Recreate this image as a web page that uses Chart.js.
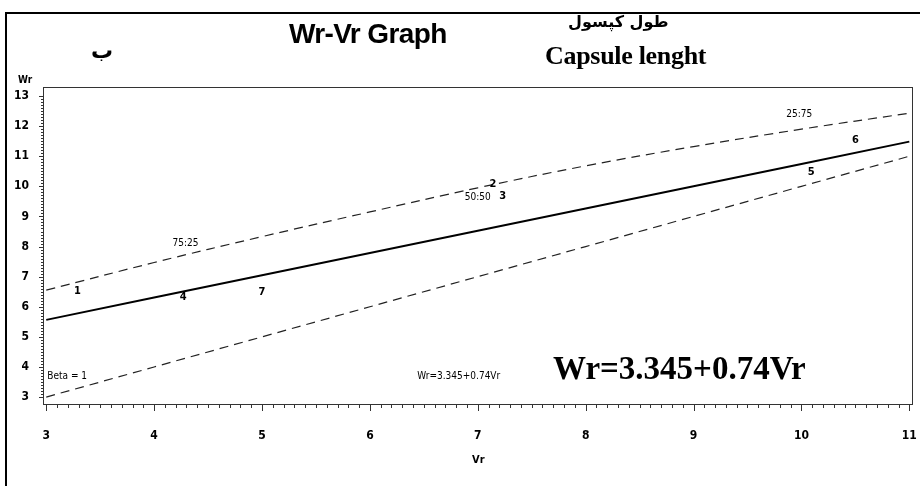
<!DOCTYPE html>
<html>
<head>
<meta charset="utf-8">
<script src="https://cdn.jsdelivr.net/npm/chart.js@4/dist/chart.umd.min.js"></script>
<style>
  html, body { margin: 0; padding: 0; background: #fff; }
  #wrap { position: relative; width: 920px; height: 486px; overflow: hidden; }
  #frame { position: absolute; left: 5px; top: 12px; width: 930px; height: 500px; border-left: 2px solid #000; border-top: 2px solid #000; }
  canvas { position: absolute; left: 0; top: 0; }
  .t { position: absolute; white-space: nowrap; color: #000; }
</style>
</head>
<body>
<div id="wrap">
  <div id="frame"></div>
  <canvas id="c" width="920" height="486"></canvas>
  <div class="t" style="left:289px;top:18px;font:bold 28px 'Liberation Sans',Arial,sans-serif;letter-spacing:-0.6px">Wr-Vr Graph</div>
  <div class="t" style="left:91px;top:38px;font:bold 22px 'DejaVu Sans',sans-serif" dir="rtl">ب</div>
  <div class="t" style="left:568px;top:12px;font:bold 16px 'DejaVu Sans',sans-serif" dir="rtl">طول کپسول</div>
  <div class="t" style="left:545px;top:41px;font:bold 26px 'Liberation Serif','Times New Roman',serif;letter-spacing:-0.3px">Capsule lenght</div>
  <div class="t" style="left:18px;top:74px;font:bold 10px 'Liberation Sans Narrow','DejaVu Sans Condensed',sans-serif">Wr</div>
  <div class="t" style="left:472px;top:453px;font:bold 11px 'Liberation Sans Narrow','DejaVu Sans Condensed',sans-serif">Vr</div>
  <div class="t" style="left:553px;top:350px;font:bold 33px 'Liberation Serif','Times New Roman',serif">Wr=3.345+0.74Vr</div>
</div>
<script>
// values
const vrValues = [3, 4, 5, 6, 7, 8, 9, 10, 11];
const regressionLine = [5.565, 6.305, 7.045, 7.785, 8.525, 9.265, 10.005, 10.745, 11.485];
const upperLimit = [6.55, 7.47, 8.33, 9.15, 9.95, 10.68, 11.32, 11.9, 12.43];
const betaOneLine = [3, 4, 5, 6, 7, 8, 9, 10, 11];

const parentNames = ['1', '2', '3', '4', '5', '6', '7'];
const parentVr = [3.29, 7.14, 7.23, 4.27, 10.09, 10.5, 5.0];
const parentWr = [6.52, 10.08, 9.68, 6.32, 10.47, 11.54, 6.49];

const notes = [
  { text: '75:25', x: 4.29, y: 8.1, align: 'center' },
  { text: '50:50', x: 7.0, y: 9.63, align: 'center' },
  { text: '25:75', x: 9.98, y: 12.4, align: 'center' },
  { text: 'Beta = 1', x: 3.01, y: 3.68, align: 'left' },
  { text: 'Wr=3.345+0.74Vr', x: 6.44, y: 3.68, align: 'left' }
];

const xTicks = [3, 4, 5, 6, 7, 8, 9, 10, 11];
const yTicks = [3, 4, 5, 6, 7, 8, 9, 10, 11, 12, 13];

const toXY = arr => arr.map((v, i) => ({ x: vrValues[i], y: v }));
const narrow = "'Liberation Sans Narrow','DejaVu Sans Condensed',sans-serif";

const extras = {
  id: 'extras',
  afterDraw(chart) {
    const { ctx, chartArea: a, scales: { x, y } } = chart;
    ctx.save();
    ctx.strokeStyle = '#333';
    ctx.lineWidth = 1;
    ctx.strokeRect(a.left + 0.5, a.top + 0.5, a.right - a.left, a.bottom - a.top);
    // minor ticks
    ctx.beginPath();
    for (let i = 0; i <= 80; i++) {
      const px = Math.round(x.getPixelForValue(3 + i / 10)) + 0.5;
      const len = i % 10 === 0 ? 7 : 4;
      ctx.moveTo(px, a.bottom);
      ctx.lineTo(px, a.bottom + len);
    }
    for (let i = 0; i <= 100; i++) {
      const py = Math.round(y.getPixelForValue(3 + i / 10)) + 0.5;
      const len = i % 10 === 0 ? 4 : 2;
      ctx.moveTo(a.left, py);
      ctx.lineTo(a.left - len, py);
    }
    ctx.stroke();
    // parent labels
    ctx.fillStyle = '#000';
    ctx.font = 'bold 11px ' + narrow;
    ctx.textAlign = 'center';
    ctx.textBaseline = 'middle';
    parentNames.forEach((n, i) => {
      ctx.fillText(n, x.getPixelForValue(parentVr[i]), y.getPixelForValue(parentWr[i]));
    });
    ctx.font = '10px ' + narrow;
    notes.forEach(n => {
      ctx.textAlign = n.align;
      ctx.fillText(n.text, x.getPixelForValue(n.x), y.getPixelForValue(n.y));
    });
    ctx.restore();
  }
};

new Chart(document.getElementById('c'), {
  type: 'scatter',
  data: {
    datasets: [
      { data: toXY(regressionLine), showLine: true, borderColor: '#000', borderWidth: 2, pointRadius: 0 },
      { data: toXY(upperLimit), showLine: true, borderColor: '#222', borderWidth: 1.2, borderDash: [9, 6], pointRadius: 0, tension: 0.4 },
      { data: toXY(betaOneLine), showLine: true, borderColor: '#222', borderWidth: 1.2, borderDash: [9, 6], pointRadius: 0 }
    ]
  },
  options: {
    responsive: false,
    animation: false,
    layout: { padding: { left: 0, top: 87, right: 8, bottom: 0 } },
    plugins: { legend: { display: false }, tooltip: { enabled: false } },
    scales: {
      x: {
        type: 'linear', min: 2.97, max: 11.025,
        afterFit: s => { s.height = 82; s.paddingLeft = 0; s.paddingRight = 0; },
        afterBuildTicks: s => { s.ticks = xTicks.map(v => ({ value: v })); },
        grid: { display: false },
        border: { display: false },
        ticks: { color: '#000', font: { family: narrow, size: 12, weight: 'bold' }, padding: 17, maxRotation: 0 }
      },
      y: {
        type: 'linear', min: 2.77, max: 13.3,
        afterFit: s => { s.width = 43; s.paddingTop = 0; s.paddingBottom = 0; },
        afterBuildTicks: s => { s.ticks = yTicks.map(v => ({ value: v })); },
        grid: { display: false },
        border: { display: false },
        ticks: { color: '#000', font: { family: narrow, size: 12, weight: 'bold' }, padding: 6 }
      }
    }
  },
  plugins: [extras]
});
</script>
</body>
</html>
